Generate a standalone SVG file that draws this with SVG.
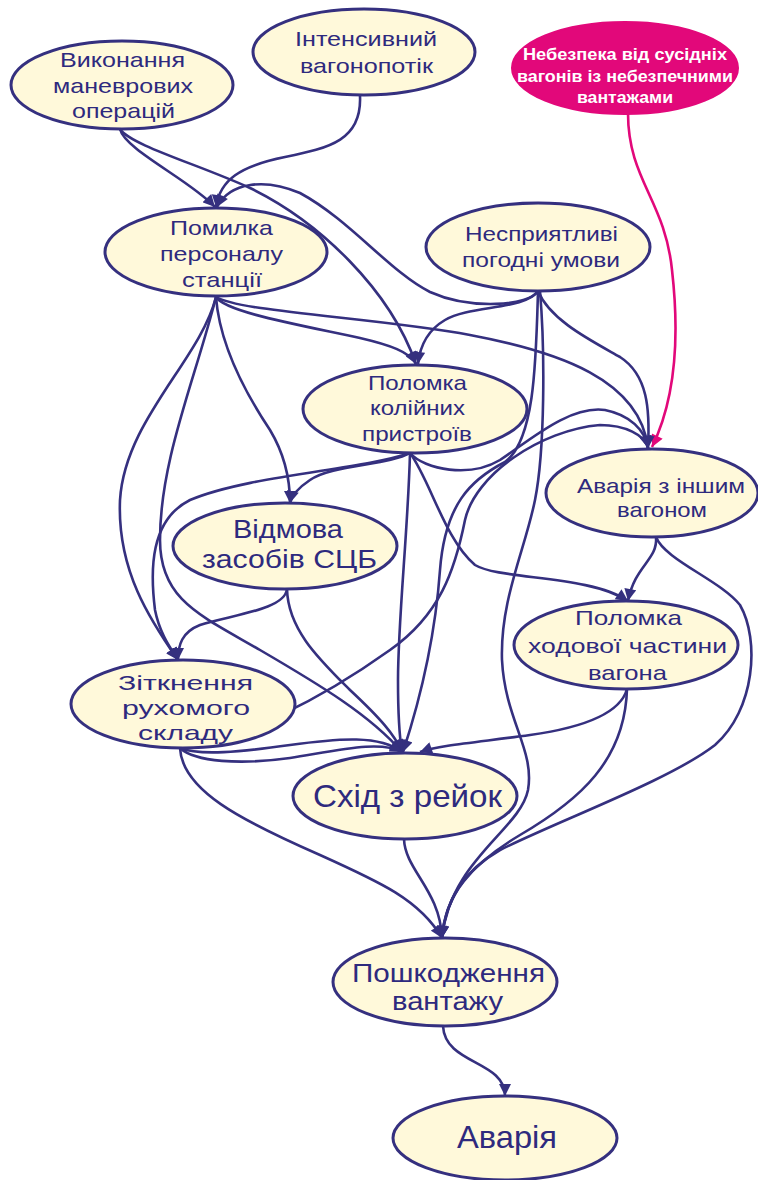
<svg xmlns="http://www.w3.org/2000/svg" width="758" height="1180" viewBox="0 0 758 1180">
<defs>
<style>
.n{fill:#FFF9DA;stroke:#35307F;stroke-width:3}
.hz{fill:#E2087A;stroke:#E2087A;stroke-width:2}
.t{font-family:"Liberation Sans",Arial,sans-serif;font-size:21px;fill:#2E2A7E;text-anchor:middle}
.tw{font-family:"Liberation Sans",Arial,sans-serif;font-size:16px;font-weight:bold;fill:#FFFFFF;text-anchor:middle}
.big{font-size:25px}
.huge{font-size:32px}
.e{fill:none;stroke:#35307F;stroke-width:2.6}
.m{fill:none;stroke:#E2087A;stroke-width:2.6}
</style>
<marker id="a" viewBox="0 0 12 12" refX="12" refY="6" markerWidth="13" markerHeight="12" markerUnits="userSpaceOnUse" orient="auto"><path d="M0,0 L12,6 L0,12 z" fill="#35307F"/></marker>
<marker id="am" viewBox="0 0 12 12" refX="12" refY="6" markerWidth="13" markerHeight="12" markerUnits="userSpaceOnUse" orient="auto"><path d="M0,0 L12,6 L0,12 z" fill="#E2087A"/></marker>
</defs>
<rect width="758" height="1180" fill="#FFFFFF"/>
<g id="connectors">
<path class="e" marker-end="url(#a)" d="M120,129 C125,150 190,180 215,207"/>
<path class="e" marker-end="url(#a)" d="M120,129 C130,145 200,165 250,188 C320,222 390,290 416,364"/>
<path class="e" marker-end="url(#a)" d="M360,96 C362,140 330,148 285,157 C240,166 220,180 216,207"/>
<path class="m" marker-end="url(#am)" d="M628,113 C628,180 665,200 672,270 C680,340 675,400 652,447"/>
<path class="e" marker-end="url(#a)" d="M538,291 C530,306 470,310 430,292 C390,272 350,220 300,193 C265,178 230,182 217,207"/>
<path class="e" marker-end="url(#a)" d="M538,291 C525,310 470,305 445,320 C428,330 420,345 418,364"/>
<path class="e" marker-end="url(#a)" d="M538,291 C550,320 590,340 620,357 C648,375 650,410 648,448"/>
<path class="e" marker-end="url(#a)" d="M538,291 C536,360 535,440 505,462 C470,480 445,505 440,570 C435,640 420,700 403,752"/>
<path class="e" marker-end="url(#a)" d="M540,291 C545,350 545,450 535,500 C525,550 500,600 502,660 C505,720 535,750 528,790 C520,830 450,860 442,938"/>
<path class="e" marker-end="url(#a)" d="M216,297 C225,312 300,325 360,338 C390,345 410,352 416,364"/>
<path class="e" marker-end="url(#a)" d="M216,297 C240,312 380,318 470,335 C560,352 640,380 648,448"/>
<path class="e" marker-end="url(#a)" d="M216,297 C220,350 250,400 270,430 C285,455 290,480 290,503"/>
<path class="e" marker-end="url(#a)" d="M216,297 C200,360 125,420 120,500 C117,570 150,620 178,660"/>
<path class="e" marker-end="url(#a)" d="M216,297 C195,380 160,460 160,540 C160,600 200,615 260,650 C320,685 370,715 402,752"/>
<path class="e" marker-end="url(#a)" d="M410,453 C390,465 330,465 310,480 C298,488 292,495 290,503"/>
<path class="e" marker-end="url(#a)" d="M410,453 C360,470 250,475 190,500 C150,520 150,570 155,610 C160,635 172,650 178,660"/>
<path class="e" marker-end="url(#a)" d="M410,453 C408,530 398,620 398,680 C398,720 400,740 402,752"/>
<path class="e" marker-end="url(#a)" d="M410,453 C425,470 470,478 500,460 C530,440 570,405 605,410 C630,415 645,430 648,448"/>
<path class="e" marker-end="url(#a)" d="M410,453 C430,480 445,540 475,565 C500,580 590,575 628,601"/>
<path class="e" marker-end="url(#a)" d="M656,537 C658,560 635,565 628,601"/>
<path class="e" marker-end="url(#a)" d="M656,537 C665,560 720,580 740,605 C760,640 755,710 715,745 C670,780 560,820 500,850 C465,870 445,900 442,938"/>
<path class="e" marker-end="url(#a)" d="M287,589 C285,610 230,615 200,625 C182,632 178,645 178,660"/>
<path class="e" marker-end="url(#a)" d="M287,589 C288,630 320,660 350,690 C380,718 395,735 402,752"/>
<path class="e" marker-end="url(#a)" d="M180,748 C240,740 320,700 390,650 C440,615 455,570 465,520 C475,475 540,430 600,425 C625,425 645,435 648,448"/>
<path class="e" marker-end="url(#a)" d="M180,748 C200,756 240,752 290,745 C340,738 380,735 402,752"/>
<path class="e" marker-end="url(#a)" d="M180,748 C195,762 240,765 290,758 C340,750 380,740 402,752"/>
<path class="e" marker-end="url(#a)" d="M180,748 C182,790 240,820 320,855 C380,882 420,900 442,938"/>
<path class="e" marker-end="url(#a)" d="M627,689 C620,715 580,728 530,735 C480,742 440,745 420,752"/>
<path class="e" marker-end="url(#a)" d="M627,689 C625,760 580,800 520,835 C470,865 445,895 442,938"/>
<path class="e" marker-end="url(#a)" d="M404,839 C405,870 440,890 442,938"/>
<path class="e" marker-end="url(#a)" d="M443,1026 C445,1065 505,1060 505,1096"/>
</g>
<g id="n-vykonannia">
<ellipse class="n" cx="122" cy="85" rx="111" ry="44"/>
<text class="t" x="122.5" y="67" textLength="125" lengthAdjust="spacingAndGlyphs">Виконання</text>
<text class="t" x="123" y="93" textLength="140" lengthAdjust="spacingAndGlyphs">маневрових</text>
<text class="t" x="123.5" y="118" textLength="103" lengthAdjust="spacingAndGlyphs">операцій</text>
</g>
<g id="n-intensyvnyi">
<ellipse class="n" cx="364" cy="52" rx="111" ry="43"/>
<text class="t" x="366" y="46" textLength="142" lengthAdjust="spacingAndGlyphs">Інтенсивний</text>
<text class="t" x="366.5" y="73" textLength="133" lengthAdjust="spacingAndGlyphs">вагонопотік</text>
</g>
<g id="n-nebezpeka">
<ellipse class="hz" cx="625" cy="68" rx="113" ry="46"/>
<text class="tw" x="625" y="60" textLength="204" lengthAdjust="spacingAndGlyphs">Небезпека від сусідніх</text>
<text class="tw" x="625" y="82" textLength="216" lengthAdjust="spacingAndGlyphs">вагонів із небезпечними</text>
<text class="tw" x="625" y="103" textLength="96" lengthAdjust="spacingAndGlyphs">вантажами</text>
</g>
<g id="n-pomylka">
<ellipse class="n" cx="216" cy="252" rx="111" ry="44"/>
<text class="t" x="221.5" y="235" textLength="103" lengthAdjust="spacingAndGlyphs">Помилка</text>
<text class="t" x="221.5" y="261" textLength="123" lengthAdjust="spacingAndGlyphs">персоналу</text>
<text class="t" x="222" y="287" textLength="80" lengthAdjust="spacingAndGlyphs">станції</text>
</g>
<g id="n-nespryiatlyvi">
<ellipse class="n" cx="538" cy="247" rx="112" ry="44"/>
<text class="t" x="541.5" y="241" textLength="153" lengthAdjust="spacingAndGlyphs">Несприятливі</text>
<text class="t" x="541" y="267" textLength="158" lengthAdjust="spacingAndGlyphs">погодні умови</text>
</g>
<g id="n-polomka-koliinykh">
<ellipse class="n" cx="415" cy="409" rx="112" ry="44"/>
<text class="t" x="417.5" y="390" textLength="99" lengthAdjust="spacingAndGlyphs">Поломка</text>
<text class="t" x="417.5" y="415" textLength="95" lengthAdjust="spacingAndGlyphs">колійних</text>
<text class="t" x="417" y="441" textLength="110" lengthAdjust="spacingAndGlyphs">пристроїв</text>
</g>
<g id="n-avariia-inshym">
<ellipse class="n" cx="652" cy="493" rx="106" ry="44"/>
<text class="t" x="661" y="493" textLength="168" lengthAdjust="spacingAndGlyphs">Аварія з іншим</text>
<text class="t" x="662" y="517" textLength="90" lengthAdjust="spacingAndGlyphs">вагоном</text>
</g>
<g id="n-vidmova">
<ellipse class="n" cx="285" cy="546" rx="112" ry="43"/>
<text class="t big" x="288" y="538" textLength="110" lengthAdjust="spacingAndGlyphs">Відмова</text>
<text class="t big" x="289.5" y="568" textLength="175" lengthAdjust="spacingAndGlyphs">засобів СЦБ</text>
</g>
<g id="n-polomka-khodovoi">
<ellipse class="n" cx="626" cy="645" rx="112" ry="44"/>
<text class="t" x="628.5" y="625" textLength="107" lengthAdjust="spacingAndGlyphs">Поломка</text>
<text class="t" x="627.5" y="653" textLength="199" lengthAdjust="spacingAndGlyphs">ходової частини</text>
<text class="t" x="627.5" y="680" textLength="79" lengthAdjust="spacingAndGlyphs">вагона</text>
</g>
<g id="n-zitknennia">
<ellipse class="n" cx="183" cy="704" rx="112" ry="44"/>
<text class="t" x="185.5" y="690" textLength="135" lengthAdjust="spacingAndGlyphs">Зіткнення</text>
<text class="t" x="186" y="715" textLength="128" lengthAdjust="spacingAndGlyphs">рухомого</text>
<text class="t" x="185.5" y="740" textLength="95" lengthAdjust="spacingAndGlyphs">складу</text>
</g>
<g id="n-skhid">
<ellipse class="n" cx="405" cy="796" rx="112" ry="43"/>
<text class="t huge" x="407.5" y="807" textLength="189" lengthAdjust="spacingAndGlyphs">Схід з рейок</text>
</g>
<g id="n-poshkodzhennia">
<ellipse class="n" cx="445" cy="982" rx="112" ry="44"/>
<text class="t big" x="448.5" y="982" textLength="193" lengthAdjust="spacingAndGlyphs">Пошкодження</text>
<text class="t big" x="447.5" y="1010" textLength="111" lengthAdjust="spacingAndGlyphs">вантажу</text>
</g>
<g id="n-avariia">
<ellipse class="n" cx="505" cy="1138" rx="112" ry="42"/>
<text class="t huge" x="507" y="1148" textLength="100" lengthAdjust="spacingAndGlyphs">Аварія</text>
</g>
</svg>
